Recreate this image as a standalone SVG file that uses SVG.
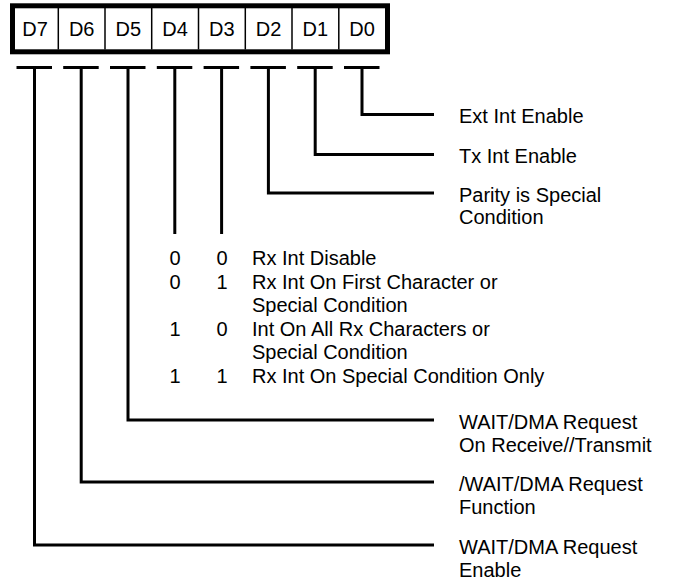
<svg xmlns="http://www.w3.org/2000/svg" width="676" height="584" viewBox="0 0 676 584">
<style>
text{font-family:"Liberation Sans",Arial,sans-serif;font-size:20px;fill:#000}
.c{text-anchor:middle}
.ln{fill:none;stroke:#000;stroke-width:3;stroke-linejoin:miter;stroke-linecap:butt}
.bar{stroke:#000;stroke-width:3}
</style>
<rect width="676" height="584" fill="#fff"/>
<g id="register">
<rect x="12.5" y="5.8" width="375" height="46" fill="#fff" stroke="#000" stroke-width="5"/>
<g stroke="#000" stroke-width="1.5">
<line x1="58.3" y1="8" x2="58.3" y2="49.5"/>
<line x1="105" y1="8" x2="105" y2="49.5"/>
<line x1="151.7" y1="8" x2="151.7" y2="49.5"/>
<line x1="198.5" y1="8" x2="198.5" y2="49.5"/>
<line x1="245.3" y1="8" x2="245.3" y2="49.5"/>
<line x1="292" y1="8" x2="292" y2="49.5"/>
<line x1="338.8" y1="8" x2="338.8" y2="49.5"/>
</g>
<text class="c" x="35" y="36">D7</text>
<text class="c" x="81.7" y="36">D6</text>
<text class="c" x="128.3" y="36">D5</text>
<text class="c" x="175" y="36">D4</text>
<text class="c" x="221.8" y="36">D3</text>
<text class="c" x="268.6" y="36">D2</text>
<text class="c" x="315.4" y="36">D1</text>
<text class="c" x="362" y="36">D0</text>
</g>
<g id="connectors">
<g class="bar">
<line x1="16.5" y1="67.5" x2="52" y2="67.5"/>
<line x1="63.2" y1="67.5" x2="98.7" y2="67.5"/>
<line x1="110" y1="67.5" x2="145.5" y2="67.5"/>
<line x1="156.8" y1="67.5" x2="192.3" y2="67.5"/>
<line x1="203.6" y1="67.5" x2="239.1" y2="67.5"/>
<line x1="250.4" y1="67.5" x2="285.9" y2="67.5"/>
<line x1="297.2" y1="67.5" x2="332.7" y2="67.5"/>
<line x1="344" y1="67.5" x2="379.5" y2="67.5"/>
</g>
<polyline class="ln" points="362,67.5 362,114.5 434,114.5"/>
<polyline class="ln" points="315.2,67.5 315.2,154.5 434,154.5"/>
<polyline class="ln" points="268.4,67.5 268.4,193 434,193"/>
<line class="ln" x1="221.6" y1="67.5" x2="221.6" y2="234"/>
<line class="ln" x1="174.8" y1="67.5" x2="174.8" y2="234"/>
<polyline class="ln" points="128,67.5 128,420 434,420"/>
<polyline class="ln" points="81.2,67.5 81.2,482 434,482"/>
<polyline class="ln" points="34.5,67.5 34.5,545 434,545"/>
</g>
<g id="label-d0"><text x="459" y="123.3">Ext Int Enable</text></g>
<g id="label-d1"><text x="459" y="163">Tx Int Enable</text></g>
<g id="label-d2"><text x="459" y="201.5">Parity is Special</text><text x="459" y="224">Condition</text></g>
<g id="table-d4-d3">
<text class="c" x="175" y="265">0</text><text class="c" x="222" y="265">0</text><text x="252" y="265">Rx Int Disable</text>
<text class="c" x="175" y="288.5">0</text><text class="c" x="222" y="288.5">1</text><text x="252" y="288.5">Rx Int On First Character or</text>
<text x="252" y="312">Special Condition</text>
<text class="c" x="175" y="335.5">1</text><text class="c" x="222" y="335.5">0</text><text x="252" y="335.5">Int On All Rx Characters or</text>
<text x="252" y="359">Special Condition</text>
<text class="c" x="175" y="382.5">1</text><text class="c" x="222" y="382.5">1</text><text x="252" y="382.5">Rx Int On Special Condition Only</text>
</g>
<g id="label-d5"><text x="459" y="429">WAIT/DMA Request</text><text x="459" y="451.5">On Receive//Transmit</text></g>
<g id="label-d6"><text x="459" y="491">/WAIT/DMA Request</text><text x="459" y="513.5">Function</text></g>
<g id="label-d7"><text x="459" y="554">WAIT/DMA Request</text><text x="459" y="576.5">Enable</text></g>
</svg>
